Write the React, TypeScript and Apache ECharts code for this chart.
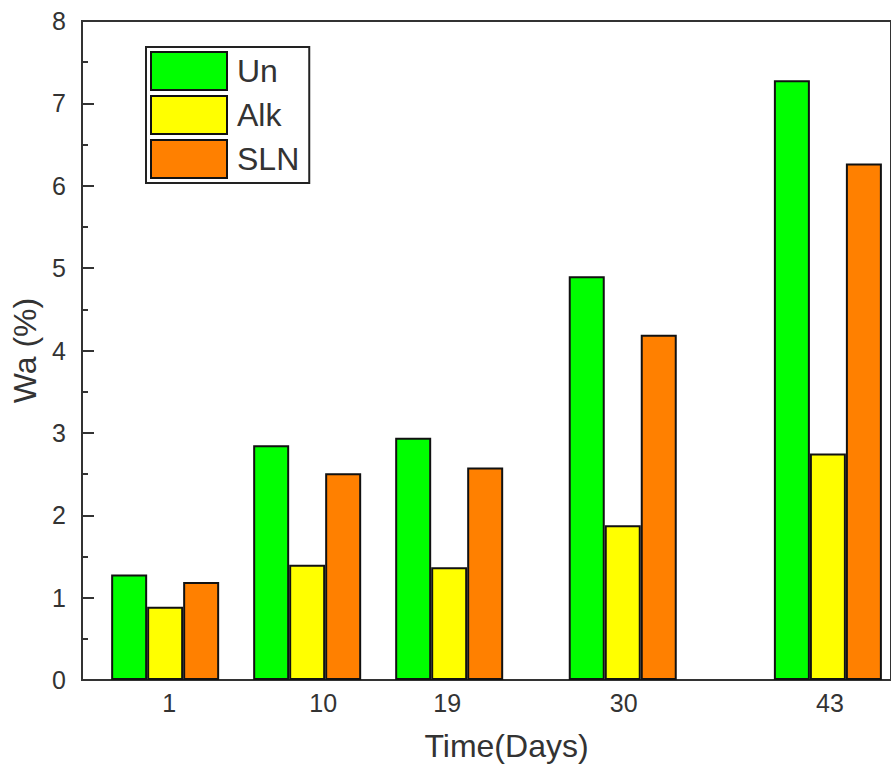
import React, { useEffect, useRef } from "react";
import * as echarts from "echarts";

// ---- data ----
const days = [1, 10, 19, 30, 43];
const seriesNames = ["Un", "Alk", "SLN"];
const unValues = [1.28, 2.85, 2.94, 4.9, 7.28];
const alkValues = [0.89, 1.4, 1.37, 1.88, 2.75];
const slnValues = [1.19, 2.51, 2.58, 4.19, 6.27];
const yMin = 0;
const yMax = 8;
const xTitle = "Time(Days)";
const yTitle = "Wa (%)";

// ---- styles ----
const colors = ["#00ff00", "#ffff00", "#ff8000"];
const labelShift: Record<number, number> = { 1: 4, 10: 16, 19: -2, 30: 1, 43: 2 };
const FONT = "'Liberation Sans', Arial, sans-serif";

export default function App() {
  const ref = useRef<HTMLDivElement>(null);
  useEffect(() => {
    if (!ref.current) return;
    const chart = echarts.init(ref.current, undefined, { renderer: "svg" });
    const valueSets = [unValues, alkValues, slnValues];
    const rich: Record<string, any> = {};
    days.forEach((d) => {
      const s = labelShift[d] || 0;
      rich["d" + d] = {
        fontSize: 25,
        color: "#333",
        fontFamily: FONT,
        padding: s >= 0 ? [0, 0, 0, 2 * s] : [0, -2 * s, 0, 0],
      };
    });
    chart.setOption({
      animation: false,
      textStyle: { fontFamily: FONT },
      grid: {
        left: 82,
        top: 21,
        bottom: 83,
        right: -8,
        show: true,
        borderColor: "#333",
        borderWidth: 2,
        backgroundColor: "transparent",
      },
      legend: {
        left: 146,
        top: 47,
        orient: "vertical",
        itemWidth: 76,
        itemHeight: 38,
        itemGap: 4,
        padding: [4, 10, 4, 4],
        borderColor: "#222",
        borderWidth: 2,
        backgroundColor: "#fff",
        icon: "rect",
        textStyle: { fontSize: 32, color: "#333", fontFamily: FONT, padding: [0, 0, 0, 5] },
        data: seriesNames,
      },
      xAxis: {
        type: "value",
        min: -4.27,
        max: 47,
        name: xTitle,
        nameLocation: "middle",
        nameGap: 50,
        nameTextStyle: { fontSize: 32, color: "#333", fontFamily: FONT, padding: [0, 0, 0, 40] },
        axisLine: { show: true, onZero: false, lineStyle: { color: "#333", width: 2 } },
        axisTick: { show: false },
        splitLine: { show: false },
        axisLabel: {
          customValues: days,
          margin: 10,
          formatter: (v: number) => `{d${v}|${v}}`,
          rich,
        },
      },
      yAxis: {
        type: "value",
        min: yMin,
        max: yMax,
        interval: 1,
        name: yTitle,
        nameLocation: "middle",
        nameGap: 40,
        nameTextStyle: { fontSize: 32, color: "#333", fontFamily: FONT },
        axisLine: { show: true, onZero: false, lineStyle: { color: "#333", width: 2 } },
        axisTick: { show: true, inside: true, length: 12, lineStyle: { color: "#333", width: 2 } },
        minorTick: { show: true, splitNumber: 2, length: 6, lineStyle: { color: "#333", width: 2 } },
        splitLine: { show: false },
        axisLabel: { fontSize: 25, color: "#333", margin: 16, fontFamily: FONT },
      },
      series: seriesNames.map((name, i) => ({
        name,
        type: "bar",
        barWidth: 36,
        barGap: "0%",
        itemStyle: { color: colors[i], borderColor: "#111", borderWidth: 2 },
        data: days.map((d, j) => [d, valueSets[i][j]]),
      })),
    });
    return () => chart.dispose();
  }, []);
  return (
    <div style={{ position: "fixed", left: 0, top: 0, width: 891, height: 767, overflow: "hidden", background: "#fff" }}>
      <div ref={ref} style={{ width: 891, height: 767 }} />
    </div>
  );
}
